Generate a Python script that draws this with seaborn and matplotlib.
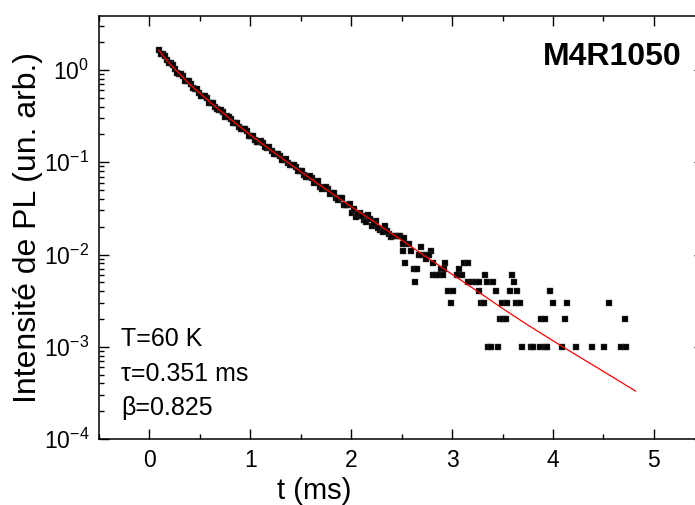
import numpy as np
import pandas as pd
import matplotlib
matplotlib.use("Agg")
import matplotlib.pyplot as plt
import matplotlib.ticker as mticker
import seaborn as sns

# --- PL decay, M4R1050, T = 60 K (t en ms, intensité en un. arb.) ---
# partie dense qui suit l'ajustement
t_decay = [0.09, 0.13, 0.17, 0.21, 0.25, 0.29, 0.33, 0.37, 0.41, 0.45,
           0.49, 0.53, 0.57, 0.61, 0.65, 0.69, 0.73, 0.77, 0.81, 0.85,
           0.89, 0.93, 0.97, 1.01, 1.05, 1.09, 1.13, 1.17, 1.21, 1.25,
           1.29, 1.33, 1.37, 1.41, 1.45, 1.49, 1.53, 1.57, 1.61, 1.65,
           1.69, 1.73, 1.77, 1.81, 1.85, 1.89, 1.93, 1.97, 2.01, 2.05,
           2.09, 2.13, 2.17, 2.21, 2.25, 2.29, 2.33, 2.37]
pl_decay = [1.66, 1.49, 1.27, 1.18, 1.03, 0.908, 0.857, 0.757, 0.70, 0.627,
            0.561, 0.525, 0.494, 0.441, 0.395, 0.372, 0.350, 0.314, 0.297, 0.267,
            0.240, 0.228, 0.216, 0.195, 0.176, 0.167, 0.160, 0.144, 0.131, 0.124,
            0.118, 0.107, 0.097, 0.0929, 0.0896, 0.0805, 0.0733, 0.0700, 0.0675, 0.0608,
            0.0542, 0.0528, 0.0517, 0.0459, 0.0409, 0.0414, 0.0348, 0.0348, 0.0283, 0.0253,
            0.0284, 0.0237, 0.0266, 0.0203, 0.0228, 0.0186, 0.0204, 0.0166]

# points intermédiaires de la partie dense
t_decay2 = [0.11, 0.15, 0.19, 0.23, 0.27, 0.31, 0.35, 0.39, 0.43, 0.47,
            0.51, 0.55, 0.59, 0.63, 0.67, 0.71, 0.75, 0.79, 0.83, 0.87,
            0.91, 0.95, 0.99, 1.03, 1.07, 1.11, 1.15, 1.19, 1.23, 1.27,
            1.31, 1.35, 1.39, 1.43, 1.47, 1.51, 1.55, 1.59, 1.63, 1.67,
            1.71, 1.75, 1.79, 1.83, 1.87, 1.91, 1.95, 1.99]
pl_decay2 = [1.48, 1.42, 1.18, 1.14, 0.934, 0.914, 0.760, 0.752, 0.633, 0.628,
             0.524, 0.520, 0.440, 0.442, 0.375, 0.373, 0.313, 0.312, 0.265, 0.269,
             0.229, 0.229, 0.193, 0.194, 0.166, 0.169, 0.145, 0.145, 0.123, 0.124,
             0.106, 0.108, 0.0931, 0.0940, 0.0797, 0.0803, 0.0692, 0.0708, 0.0601, 0.0622,
             0.0518, 0.0535, 0.0450, 0.0470, 0.0386, 0.0413, 0.0343, 0.0352]

# queue bruitée (niveaux quantifiés)
t_tail = [2.03, 2.07, 2.11, 2.15, 2.19, 2.23, 2.27, 2.31, 2.35, 2.39,
          2.40, 2.43, 2.46, 2.48, 2.52, 2.51, 2.57, 2.69,
          2.51, 2.59, 2.79, 2.67, 2.70, 2.74, 2.77, 2.74,
          2.53, 2.81, 2.93, 3.12, 3.16,
          2.62, 2.65, 2.89, 2.92, 3.07,
          2.81, 2.84, 2.87, 2.91, 3.05, 3.10, 3.33, 3.59,
          2.63, 3.16, 3.20, 3.24, 3.27, 3.35, 3.41, 3.61,
          2.96, 3.01, 3.27, 3.43, 3.57, 3.64, 3.97,
          2.99, 3.29, 3.32, 3.49, 3.54, 3.63, 3.67, 4.00, 4.14, 4.55,
          3.47, 3.50, 3.53, 3.88, 3.92, 4.12, 4.71,
          3.36, 3.39, 3.45, 3.69, 3.78, 3.80, 3.87, 3.92, 3.94, 4.09,
          4.23, 4.39, 4.51, 4.67, 4.72]
pl_tail = [0.031, 0.0275, 0.0262, 0.0224, 0.0245, 0.0215, 0.0195, 0.0175, 0.0182, 0.0155,
           0.016, 0.016, 0.016, 0.016, 0.015, 0.013, 0.013, 0.012,
           0.011, 0.011, 0.011, 0.010, 0.010, 0.010, 0.010, 0.009,
           0.008, 0.008, 0.008, 0.008, 0.008,
           0.007, 0.007, 0.007, 0.007, 0.007,
           0.006, 0.006, 0.006, 0.006, 0.006, 0.006, 0.006, 0.006,
           0.005, 0.005, 0.005, 0.005, 0.005, 0.005, 0.005, 0.005,
           0.004, 0.004, 0.004, 0.004, 0.004, 0.004, 0.004,
           0.003, 0.003, 0.003, 0.003, 0.003, 0.003, 0.003, 0.003, 0.003, 0.003,
           0.002, 0.002, 0.002, 0.002, 0.002, 0.002, 0.002,
           0.001, 0.001, 0.001, 0.001, 0.001, 0.001, 0.001, 0.001, 0.001, 0.001,
           0.001, 0.001, 0.001, 0.001, 0.001]

# courbe d'ajustement (exponentielle étirée)
t_fit = [0.09, 0.15, 0.25, 0.4, 0.6, 0.8, 1.0, 1.25, 1.5, 1.75, 2.0,
         2.25, 2.5, 2.75, 3.0, 3.25, 3.5, 3.75, 4.0, 4.25, 4.5, 4.82]
pl_fit = [1.66, 1.36, 1.03, 0.70, 0.45, 0.295, 0.198, 0.124, 0.079, 0.051, 0.033,
          0.0218, 0.0143, 0.0093, 0.0061, 0.0040, 0.0026, 0.00172, 0.00116,
          0.00079, 0.00054, 0.00033]

df_pts = pd.DataFrame({"t": t_decay + t_decay2 + t_tail,
                       "pl": pl_decay + pl_decay2 + pl_tail})
df_fit = pd.DataFrame({"t": t_fit, "pl": pl_fit})

sns.set_style("ticks", {"text.color": "black", "axes.labelcolor": "black",
                        "xtick.color": "black", "ytick.color": "black",
                        "axes.edgecolor": "black"})
plt.rcParams['font.family'] = ['Liberation Sans', 'DejaVu Sans']
plt.rcParams['axes.linewidth'] = 1.1

fig = plt.figure(figsize=(6.95, 5.05), dpi=100)
ax = fig.add_axes([0.1424, 0.1307, 0.8711, 0.8376])

sns.scatterplot(data=df_pts, x="t", y="pl", marker="s", s=14,
                color="black", edgecolor="0.3", linewidth=0.3, ax=ax)
sns.lineplot(data=df_fit, x="t", y="pl", color="red", linewidth=0.9,
             estimator=None, ax=ax)

ax.set_yscale("log")
ax.set_xlim(-0.5, 5.5)
ax.set_ylim(1e-4, 3.85)
ax.xaxis.set_major_locator(mticker.MultipleLocator(1))
ax.xaxis.set_minor_locator(mticker.MultipleLocator(0.5))
ax.yaxis.set_major_locator(mticker.LogLocator(base=10))
ax.yaxis.set_minor_locator(mticker.LogLocator(base=10, subs=np.arange(2, 10)))
ax.yaxis.set_minor_formatter(mticker.NullFormatter())

ax.tick_params(which="both", direction="in", top=True, right=True,
               labelsize=16.5, width=1.0, colors="black")
ax.tick_params(which="major", length=7, pad=7)
ax.tick_params(which="minor", length=3.5)

ax.set_xlabel("t (ms)", fontsize=21)
ax.set_ylabel("Intensité de PL (un. arb.)", fontsize=23)
ax.xaxis.set_label_coords(0.355, -0.09)
ax.yaxis.set_label_coords(-0.0925, 0.5)

ax.text(0.036, 0.22, "T=60 K", transform=ax.transAxes, fontsize=18)
ax.text(0.036, 0.138, "τ=0.351 ms", transform=ax.transAxes, fontsize=18)
ax.text(0.036, 0.057, "β=0.825", transform=ax.transAxes, fontsize=18)
ax.text(0.733, 0.884, "M4R1050", transform=ax.transAxes, fontsize=23,
        fontweight="bold")

fig.savefig("out.png", dpi=100)
